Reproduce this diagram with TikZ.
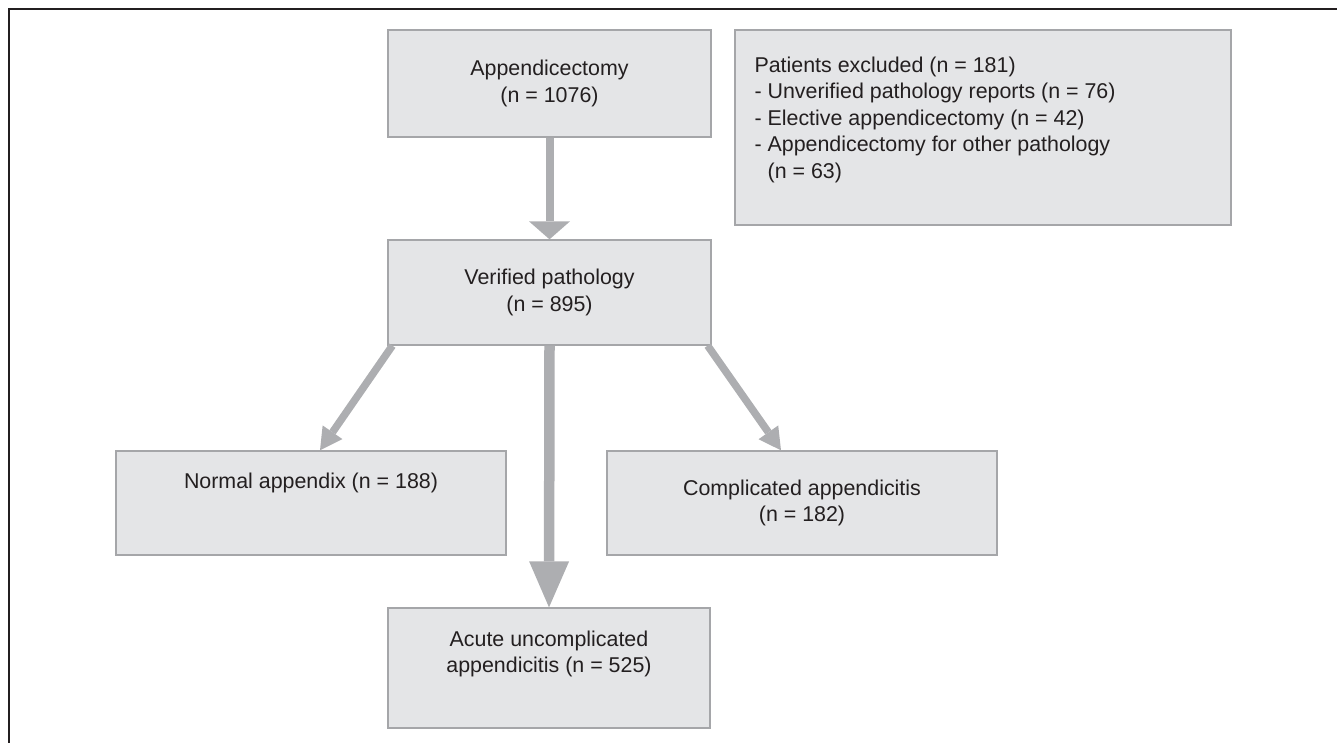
\documentclass[tikz,border=0pt]{standalone}
\usepackage{fontspec}
\setmainfont{Liberation Sans}
\usepackage{tikz}
\usetikzlibrary{arrows.meta,positioning}
\definecolor{cBox}{HTML}{E4E5E7}
\definecolor{cBoxLine}{HTML}{A5A6A9}
\definecolor{cArrow}{HTML}{ADAEB1}
\definecolor{cInk}{HTML}{231F20}
\tikzset{
  box/.style ={draw=cBoxLine, fill=cBox, line width=1.3pt, inner sep=0pt, text=cInk, align=center},
  txt/.style ={inner sep=0pt, text=cInk},
  frame/.style={draw=cInk, line width=2.3pt},
  fat/.style  ={draw=cArrow, line width=8pt, -{Triangle[width=41pt,length=18pt,line width=0pt]}},
  tall/.style ={draw=cArrow, line width=10.5pt, -{Triangle[width=40pt,length=46pt,line width=0pt]}},
  slim/.style ={draw=cArrow, line width=7.5pt, -{Triangle[width=24pt,length=22pt,line width=0pt]}},
}

\begin{document}
\begin{tikzpicture}[x=1pt,y=-1pt,font=\fontsize{21.4}{26.5}\selectfont]
  \useasboundingbox (0,0) rectangle (1337,743);
  \draw[frame] (1337,9) -- (9,9) -- (9,743);

  \node[box, minimum width=323pt, minimum height=107pt] (appx) at (549.5,83.5) {Appendicectomy\\(n = 1076)};
  \node[box, minimum width=496pt, minimum height=195pt] (excl) at (983,127.5) {};
  \node[txt, anchor=north west, align=left] (exclT) at ([xshift=20pt,yshift=-27pt]excl.north west)
    {Patients excluded (n = 181)\\- Unverified pathology reports (n = 76)\\- Elective appendicectomy (n = 42)\\- Appendicectomy for other pathology\\\hphantom{-}\ (n = 63)};
  \node[box, minimum width=323pt, minimum height=105pt] (verif) at (549.5,292.5) {Verified pathology\\(n = 895)};
  \node[box, minimum width=390pt, minimum height=104pt] (normal) at (311,503) {};
  \node[txt] (normalT) at ([yshift=20pt]normal.center) {Normal appendix (n = 188)};
  \node[box, minimum width=390pt, minimum height=104pt] (cmpl) at (802,503) {Complicated appendicitis\\(n = 182)};
  \node[box, minimum width=322pt, minimum height=120pt] (acute) at (549,668) {};
  \node[txt, align=center] (acuteT) at ([yshift=14pt]acute.center) {Acute uncomplicated\\appendicitis (n = 525)};

  \draw[fat] (appx.south) -- (verif.north);
  \draw[tall] (verif.south) -- (acute.north);
  \draw[slim] ([xshift=5pt]verif.south west) -- ([xshift=9pt]normal.north);
  \draw[slim] ([xshift=-4pt]verif.south east) -- ([xshift=-21pt]cmpl.north);
\end{tikzpicture}
\end{document}
